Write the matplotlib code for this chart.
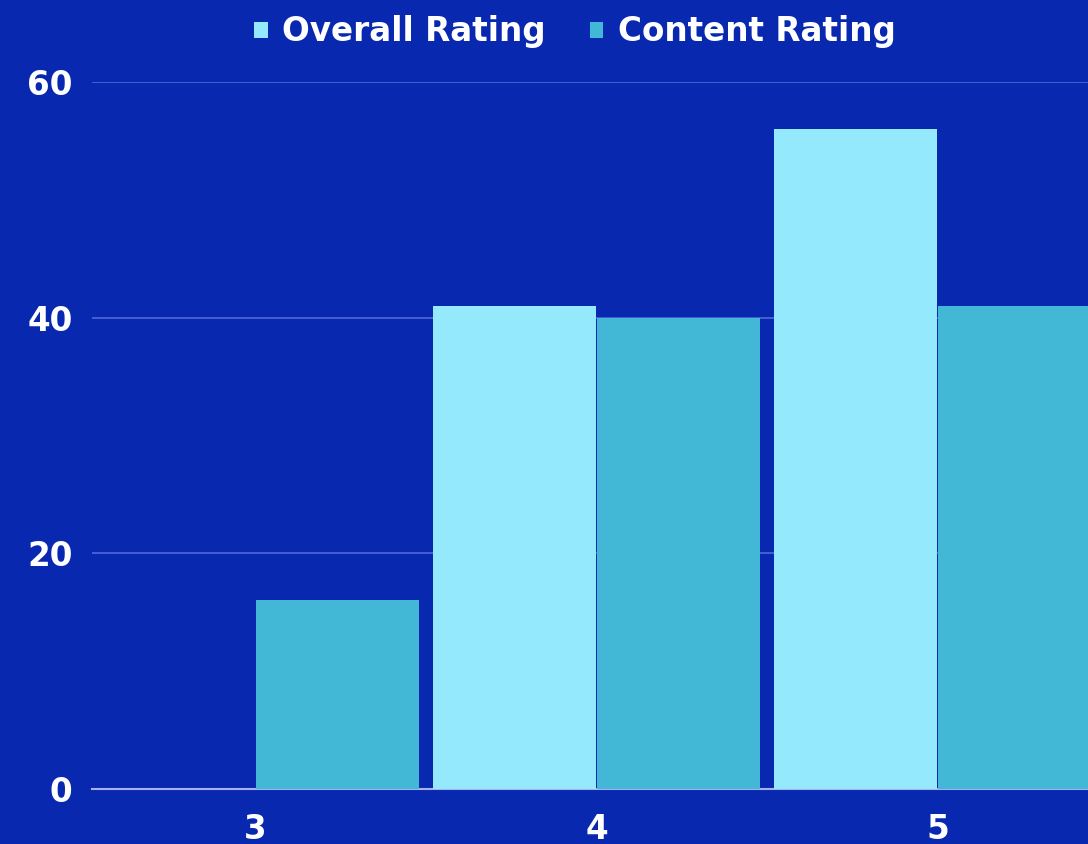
import matplotlib
matplotlib.use('Agg')
import matplotlib.pyplot as plt
import numpy as np

categories = ['3', '4', '5']
overall_rating = [0, 41, 56]
content_rating = [16, 40, 41]
series_names = ['Overall Rating', 'Content Rating']
y_ticks = [0, 20, 40, 60]

BG = '#0828B0'
C_OVERALL = '#94E9FC'
C_CONTENT = '#43B7D6'

plt.rcParams['font.family'] = ['DejaVu Sans']
plt.rcParams['font.weight'] = 'bold'

fig = plt.figure(figsize=(10.88, 8.44), dpi=100, facecolor=BG)
ax = fig.add_axes([92/1088, 55/844, (1088-92)/1088, 707/844], facecolor=BG)

x = np.arange(len(categories))
w = 163/341
ax.bar(x - 163.5/341, overall_rating, width=w, align='edge', color=C_OVERALL,
       label=series_names[0], zorder=3)
ax.bar(x + 0.5/341, content_rating, width=w, align='edge', color=C_CONTENT,
       label=series_names[1], zorder=3)

ax.set_xlim(-163.5/341, (1088-255.5)/341)
ax.set_ylim(0, 60)
ax.set_xticks(x)
ax.set_xticklabels(categories)
ax.set_yticks(y_ticks)
ax.yaxis.grid(True, color='#4B63D4', linewidth=1.3, zorder=0)
ax.set_axisbelow(True)
for s in ['top', 'right', 'left']:
    ax.spines[s].set_visible(False)
ax.spines['bottom'].set_color('#A9B1EA')
ax.spines['bottom'].set_linewidth(1.5)
ax.spines['bottom'].set_zorder(2)
ax.tick_params(axis='both', length=0, colors='white', labelsize=23.5)
ax.tick_params(axis='y', pad=14)
ax.tick_params(axis='x', pad=17)
for lab in ax.get_xticklabels() + ax.get_yticklabels():
    lab.set_fontweight('bold')

leg = fig.legend(loc='center', bbox_to_anchor=(575/1088, 1 - 32/844), ncol=2,
                 frameon=False, fontsize=23.5, handlelength=0.4, handleheight=0.4,
                 handletextpad=0.45, columnspacing=1.35)
for t in leg.get_texts():
    t.set_color('white')
    t.set_fontweight('bold')

fig.savefig('out.png', dpi=100, facecolor=BG)
